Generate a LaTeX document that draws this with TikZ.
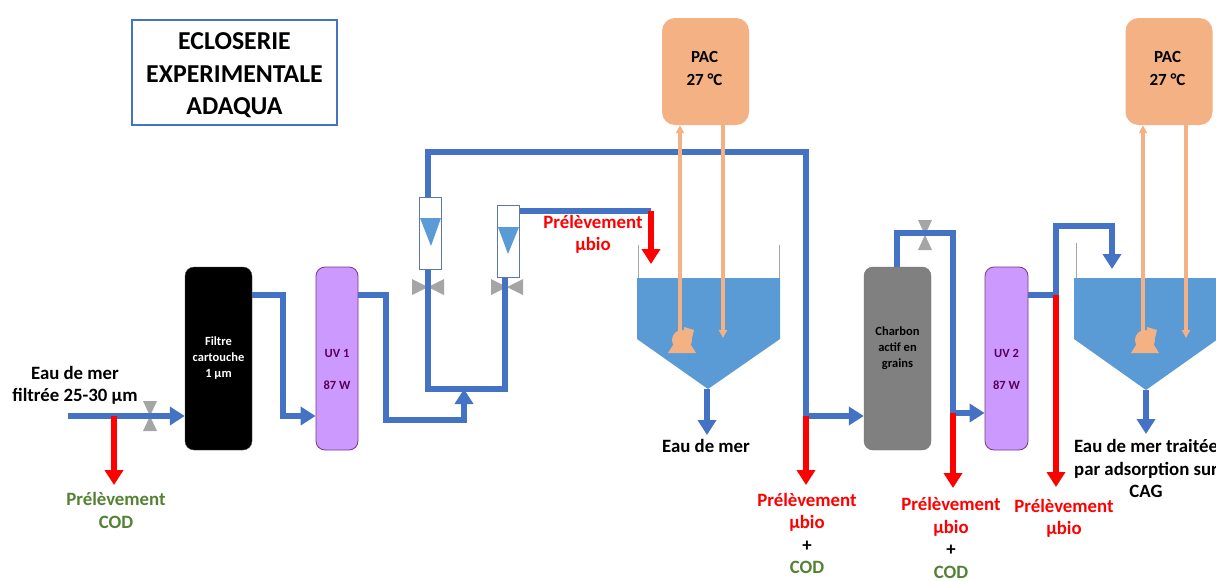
\documentclass[tikz,border=0pt]{standalone}
\usepackage{fontspec}
\setmainfont{Carlito}
\usetikzlibrary{arrows.meta,calc}
\definecolor{pipeblue}{HTML}{4472C4}
\definecolor{tankblue}{HTML}{5B9BD5}
\definecolor{pacorange}{HTML}{F4B183}
\definecolor{uvpurple}{HTML}{CC99FF}
\definecolor{valvegrey}{HTML}{A5A5A5}
\definecolor{codgreen}{HTML}{548235}
\tikzset{
  x=1pt,y=-1pt,
  pipe/.style={draw=pipeblue,line width=5.4pt,line join=miter},
  pipearrow/.style={pipe,-{Triangle[length=15pt,width=18pt]}},
  redarrow/.style={draw=red,line width=5.4pt,-{Triangle[length=15pt,width=18pt]}},
  tanline/.style={draw=pacorange,line width=3.4pt,-{Triangle[length=8pt,width=8pt]}},
  column/.style={rounded corners=9pt,inner sep=0pt,align=center,minimum height=183pt},
  pacbox/.style={fill=pacorange,rounded corners=13pt,inner sep=0pt,minimum width=87pt,minimum height=107pt},
  pactext/.style={inner sep=0pt,align=center,font=\bfseries\fontsize{17}{23}\selectfont},
  meter/.style={draw=pipeblue!60!gray,fill=white,line width=1pt,inner sep=0pt,minimum width=22pt,minimum height=72pt},
  lbl/.style={inner sep=0pt,align=center,font=\bfseries\fontsize{18.8}{22.6}\selectfont},
  tiny/.style={font=\bfseries\fontsize{12.5}{16}\selectfont},
  uvtext/.style={inner sep=0pt,align=center,font=\bfseries\fontsize{12.5}{32}\selectfont,text=violet!70!black},
  vvalve/.pic={\fill[valvegrey] (-7,-15)--(7,-15)--(-7,15)--(7,15)--cycle;},
  hvalve/.pic={\fill[valvegrey] (-16,-8)--(-16,8)--(16,-8)--(16,8)--cycle;},
  pump/.pic={\fill[pacorange] (0,0) circle (10);
    \fill[pacorange] (-14,13)--(-9,5)--(9,5)--(14,13)--cycle;
    \fill[pacorange] (2,-13)--(12,-10)--(10,-2)--(2,-2)--cycle;}
}
\begin{document}
\begin{tikzpicture}
\useasboundingbox (0,0) rectangle (1216,581);
\clip (0,0) rectangle (1216,581);
% title
\node[draw=pipeblue,line width=1.8pt,minimum width=205pt,minimum height=105pt,inner sep=0pt] (title) at (234.5,72.5) {};
\node[inner sep=0pt,align=center,font=\bfseries\fontsize{25.8}{32.5}\selectfont] (titletext) at (234.5,75.5) {ECLOSERIE\\EXPERIMENTALE\\ADAQUA};
% tanks
\fill[tankblue] (637,278)--(780,278)--(780,339)--(708,389)--(637,339)--cycle;
\coordinate (t1out) at (707,389);
\draw[valvegrey,line width=.8pt] (638,245)--(638,278) (779,245)--(779,278);
\fill[tankblue] (1074,278)--(1218,278)--(1218,339)--(1146,390)--(1074,339)--cycle;
\coordinate (t2out) at (1146,390);
\draw[valvegrey,line width=.8pt] (1076,243)--(1076,278);
% valves
\pic at (150,416) {vvalve};
\pic at (428,287) {hvalve};
\pic at (507,287) {hvalve};
\pic at (925,235) {vvalve};
% columns
\node[column,fill=black,draw=black!70,minimum width=67pt] (filter) at (218.5,358.5) {};
\node[column,fill=uvpurple,draw=violet!60!gray,line width=.8pt,minimum width=42pt] (uva) at (337,358.5) {};
\node[column,fill=black!50,draw=black!55,minimum width=67pt] (charbon) at (897.5,358.5) {};
\node[column,fill=uvpurple,draw=violet!60!gray,line width=.8pt,minimum width=43pt] (uvb) at (1006.5,358.5) {};
\node[inner sep=0pt,align=center,text=white,tiny] (filtertext) at (218.5,358) {Filtre\\cartouche\\1 µm};
\node[uvtext] (uvatext) at (337,369) {UV 1\\87 W};
\node[inner sep=0pt,align=center,tiny] (charbontext) at (897.5,348) {Charbon\\actif en\\grains};
\node[uvtext] (uvbtext) at (1006.5,369) {UV 2\\87 W};
% flow meters
\node[meter] (ma) at (430.5,233) {};
\node[meter] (mb) at (508,241) {};
\fill[tankblue] (420,218)--(441,218)--(431,246)--cycle;
\fill[tankblue] (498,227)--(519,227)--(508,254)--cycle;
% PAC
\node[pacbox] (paca) at (705.5,71.5) {};
\node[pacbox] (pacb) at (1169,71.5) {};
\node[pactext] (pacatext) at (704.5,68.5) {PAC\\27 °C};
\node[pactext] (pacbtext) at (1167.5,68.5) {PAC\\27 °C};
% coordinates
\coordinate (inlet) at (68,416);
\coordinate (inj) at (114,416);
\coordinate (joint) at (464,389);
\coordinate (bara) at (428,389);
\coordinate (barb) at (505,389);
\coordinate (branch) at (806,416);
\coordinate (cbtop) at (897,267);
\coordinate (cbj) at (953,413);
\coordinate (uvbj) at (1056,295);
\coordinate (bioa) at (651,211);
\coordinate (tanktop) at (1112,226);
\coordinate (taa) at (680,335);
\coordinate (tab) at (723,125);
\coordinate (tba) at (1143,335);
\coordinate (tbb) at (1186,125);
% pipes
\draw[pipearrow] (inlet) -- (filter.west |- inlet);
\draw[pipearrow] (filter.east |- 0,295) -- (283,295) -- (283,416) -- (uva.west |- 0,416);
\draw[pipearrow] (uva.east |- 0,295) -- (386,295) -- (386,420) -- (464,420) -- (joint);
\draw[pipe] (ma.north -| bara) -- (428,152) -- (806,152) -- (branch);
\draw[pipe] (ma.south -| bara) -- (bara) -- (barb) -- (mb.south -| barb);
\draw[pipearrow] (branch) -- (charbon.west |- branch);
\draw[pipe] (mb.east |- bioa) -- (bioa);
\draw[pipearrow] (t1out) -- (707,435);
\draw[pipe] (cbtop) -- (897,233) -- (953,233) -- (cbj);
\draw[pipearrow] (cbj) -- (uvb.west |- cbj);
\draw[pipe] (uvb.east |- uvbj) -- (uvbj);
\draw[pipearrow] (uvbj) -- (tanktop -| uvbj) -- (tanktop) -- (1112,269);
\draw[pipearrow] (t2out) -- (1146,434);
% red
\draw[redarrow] (inj) -- (114,485);
\draw[redarrow] (bioa) -- (651,264);
\draw[redarrow] (branch) -- (806,485);
\draw[redarrow] (cbj) -- (953,488);
\draw[redarrow] (uvbj) -- (1056,487);
% heat pump lines
\pic at (682,340) {pump};
\pic at (1145,340) {pump};
\draw[tanline] (taa) -- (paca.south -| taa);
\draw[tanline] (tab) -- (723,338);
\draw[tanline] (tba) -- (pacb.south -| tba);
\draw[tanline] (tbb) -- (1186,338);
% labels
\node[lbl] (l1) at (75,385.5) {Eau de mer\\filtrée 25-30 µm};
\node[lbl,text=codgreen] (l2) at (116,510.5) {Prélèvement\\COD};
\node[lbl,text=red] (l3) at (593,234.5) {Prélèvement\\µbio};
\node[lbl] (l4) at (706,446) {Eau de mer};
\node[lbl] (l5) at (807,533.5) {\textcolor{red}{Prélèvement}\\\textcolor{red}{µbio}\\+\\\textcolor{codgreen}{COD}};
\node[lbl] (l6) at (951,538) {\textcolor{red}{Prélèvement}\\\textcolor{red}{µbio}\\+\\\textcolor{codgreen}{COD}};
\node[lbl,text=red] (l7) at (1064,518.5) {Prélèvement\\µbio};
\node[lbl] (l8) at (1146,468.5) {Eau de mer traitée\\par adsorption sur\\CAG};
\end{tikzpicture}
\end{document}
